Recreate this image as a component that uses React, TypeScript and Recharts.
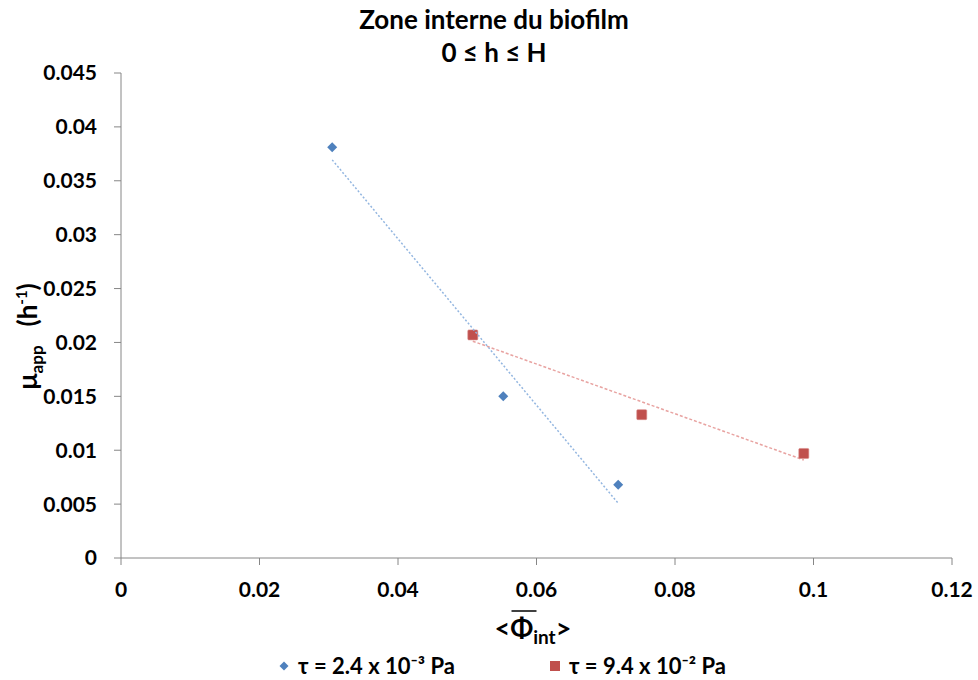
import { ScatterChart, Scatter, XAxis, YAxis, Legend } from 'recharts'

const phiLow = [0.0305, 0.0552, 0.0718]
const muLow = [0.0381, 0.0150, 0.0068]
const phiHigh = [0.0508, 0.0752, 0.0986]
const muHigh = [0.0207, 0.0133, 0.0097]

const xTicks = [0, 0.02, 0.04, 0.06, 0.08, 0.1, 0.12]
const yTicks = [0, 0.005, 0.01, 0.015, 0.02, 0.025, 0.03, 0.035, 0.04, 0.045]

const lowLabel = 'τ = 2.4 x 10⁻³ Pa'
const highLabel = 'τ = 9.4 x 10⁻² Pa'

const FONT = 'Lato, Carlito, Calibri, sans-serif'
const AXIS = '#868686'
const BLUE = '#4F81BD'
const RED = '#C0504D'

const lowData = phiLow.map((x, i) => ({ x, y: muLow[i] }))
const highData = phiHigh.map((x, i) => ({ x, y: muHigh[i] }))

function Diamond(props: any) {
  const { cx, cy } = props
  const r = 5
  return <polygon points={`${cx},${cy - r} ${cx + r},${cy} ${cx},${cy + r} ${cx - r},${cy}`} fill={BLUE} />
}

function Square(props: any) {
  const { cx, cy } = props
  return <rect x={cx - 5} y={cy - 5} width={10} height={10} rx={1} fill={RED} stroke="#d98a88" strokeWidth={0.6} />
}

function YLabel(props: any) {
  const vb = props.viewBox
  const cx = vb.x + 37
  const cy = vb.y + vb.height / 2 + 21
  return (
    <text transform={`translate(${cx},${cy}) rotate(-90)`} textAnchor="middle" fontFamily={FONT} fontWeight="bold" fill="#000">
      <tspan fontSize={27}>μ</tspan>
      <tspan fontSize={17} dy={6}>app</tspan>
      <tspan fontSize={26} dy={-6}>{'\u00a0\u00a0\u00a0(h'}</tspan>
      <tspan fontSize={15} dy={-10}>-1</tspan>
      <tspan fontSize={26} dy={10}>)</tspan>
    </text>
  )
}

function XLabel(props: any) {
  const vb = props.viewBox
  const x0 = vb.x + vb.width / 2 - 42
  const base = vb.y + 80
  return (
    <g>
      <text x={x0} y={base} fontFamily={FONT} fontWeight="bold" fill="#000">
        <tspan fontSize={27}>{'<Φ'}</tspan>
        <tspan fontSize={19} dy={6}>int</tspan>
        <tspan fontSize={27} dy={-6}>{'>'}</tspan>
      </text>
      <line x1={x0 + 17} x2={x0 + 42} y1={base - 27} y2={base - 27} stroke="#000" strokeWidth={1.5} />
    </g>
  )
}

function LegendContent() {
  const item = (marker: any, label: string) => (
    <div style={{ display: 'flex', alignItems: 'center', gap: 8 }}>
      <svg width={12} height={12}>{marker}</svg>
      <span>{label}</span>
    </div>
  )
  return (
    <div
      style={{
        display: 'flex',
        justifyContent: 'center',
        gap: 94,
        paddingLeft: 26,
        fontFamily: FONT,
        fontWeight: 'bold',
        fontSize: 22,
        color: '#000',
      }}
    >
      {item(<polygon points="6,1.5 10.5,6 6,10.5 1.5,6" fill={BLUE} />, lowLabel)}
      {item(<rect x={1} y={1} width={10} height={10} fill={RED} />, highLabel)}
    </div>
  )
}

export default function App() {
  const tick = { fontFamily: FONT, fontWeight: 'bold', fontSize: 21, fill: '#000' }
  return (
    <div style={{ position: 'absolute', left: 0, top: 0, width: 978, height: 680, background: '#fff' }}>
      <div
        style={{
          position: 'absolute',
          left: 0,
          top: 3,
          width: 988,
          textAlign: 'center',
          fontFamily: FONT,
          fontWeight: 'bold',
          fontSize: 26,
          lineHeight: '33px',
          zIndex: 2,
        }}
      >
        <div>Zone interne du biofilm</div>
        <div>0 ≤ h ≤ H</div>
      </div>
      <ScatterChart width={978} height={680} margin={{ top: 73, right: 26, left: 0, bottom: 0 }}>
        <XAxis
          type="number"
          dataKey="x"
          domain={[0, 0.12]}
          ticks={xTicks}
          interval={0}
          tick={tick}
          tickSize={7}
          tickMargin={17}
          height={82}
          stroke={AXIS}
          label={<XLabel />}
        />
        <YAxis
          type="number"
          dataKey="y"
          domain={[0, 0.045]}
          ticks={yTicks}
          interval={0}
          tick={tick}
          tickSize={7}
          tickMargin={17}
          width={121}
          stroke={AXIS}
          label={<YLabel />}
        />
        <Legend
          verticalAlign="bottom"
          height={40}
          content={<LegendContent />}
          wrapperStyle={{ left: 0, width: 978, top: 652, bottom: 'auto' }}
        />
        <Scatter
          name={highLabel}
          data={highData}
          shape={<Square />}
          line={{ stroke: '#E8A3A1', strokeWidth: 1.5, strokeDasharray: '3 2' }}
          lineType="fitting"
          isAnimationActive={false}
        />
        <Scatter
          name={lowLabel}
          data={lowData}
          shape={<Diamond />}
          line={{ stroke: '#93B6E0', strokeWidth: 1.5, strokeDasharray: '2 2' }}
          lineType="fitting"
          isAnimationActive={false}
        />
      </ScatterChart>
    </div>
  )
}
